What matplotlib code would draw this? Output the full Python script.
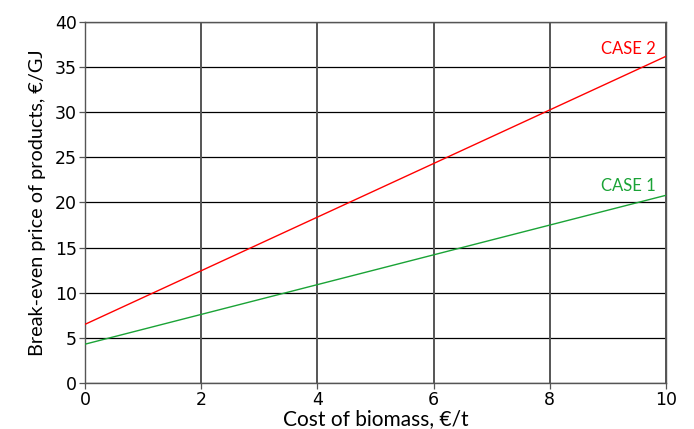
import matplotlib
matplotlib.use("Agg")
import matplotlib.pyplot as plt

cost = [0, 2, 4, 6, 8, 10]
case1 = [4.3, 7.6, 10.9, 14.2, 17.5, 20.8]
case2 = [6.5, 12.44, 18.38, 24.32, 30.26, 36.2]
xticks = [0, 2, 4, 6, 8, 10]
yticks = [0, 5, 10, 15, 20, 25, 30, 35, 40]

fig = plt.figure(figsize=(6.94, 4.29), dpi=100)
ax = fig.add_axes([85/694, 1-383/429, (666-85)/694, (383-22)/429])

for y in yticks:
    ax.axhline(y, color="black", lw=0.9, zorder=1)
for x in xticks:
    ax.axvline(x, color="#555555", lw=1.4, zorder=1)

ax.plot(cost, case2, color="#ff0000", lw=1.0, zorder=3)
ax.plot(cost, case1, color="#1aa336", lw=1.0, zorder=3)

ax.text(9.83, 37.0, "CASE 2", color="#ff0000", ha="right", va="center",
        fontsize=12, family="Lato")
ax.text(9.83, 21.8, "CASE 1", color="#1aa336", ha="right", va="center",
        fontsize=12, family="Lato")

ax.set_xlim(0, 10)
ax.set_ylim(0, 40)
ax.set_xticks(xticks)
ax.set_yticks(yticks)
ax.tick_params(labelsize=12.5, length=4, width=0.9, color="#555555", pad=2)
for s in ax.spines.values():
    s.set_color("#555555")
    s.set_linewidth(1.0)

ax.set_xlabel("Cost of biomass, €/t", fontsize=15, family="Lato", labelpad=0)
ax.set_ylabel("Break-even price of products, €/GJ", fontsize=14.3, family="Lato", labelpad=6)

fig.savefig("out.png", dpi=100)
